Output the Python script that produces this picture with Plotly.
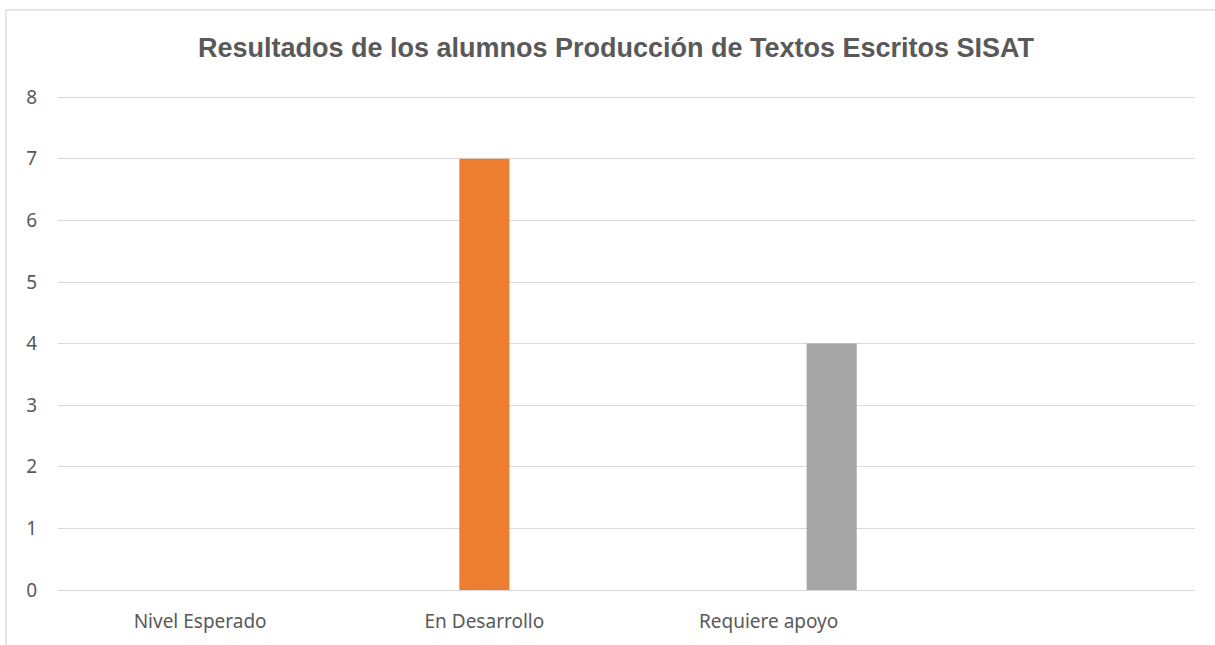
import plotly.graph_objects as go

# Data
categories = ["Nivel Esperado", "En Desarrollo", "Requiere apoyo", " "]
nivel_esperado = [0, None, None, None]
en_desarrollo = [None, 7, None, None]
requiere_apoyo = [None, None, 4, None]
y_ticks = [0, 1, 2, 3, 4, 5, 6, 7, 8]

fig = go.Figure()

fig.add_trace(go.Bar(x=categories, y=nivel_esperado, name="Nivel Esperado",
                     marker=dict(color="#4472C4", line=dict(width=0))))
fig.add_trace(go.Bar(x=categories, y=en_desarrollo, name="En Desarrollo",
                     marker=dict(color="#ED7D31", line=dict(width=0))))
fig.add_trace(go.Bar(x=categories, y=requiere_apoyo, name="Requiere apoyo",
                     marker=dict(color="#A5A5A5", line=dict(width=0))))

# Light border around the chart area (Excel style)
fig.add_shape(type="rect", xref="paper", yref="paper",
              x0=-0.0457, x1=1.2, y0=-0.2, y1=1.1744,
              line=dict(color="#D9D9D9", width=1.3), fillcolor="rgba(0,0,0,0)",
              layer="below")

tick_font = dict(family="Noto Sans, Open Sans", size=19, color="#595959")

fig.update_layout(
    width=1215, height=645,
    title=dict(text="<b>Resultados de los alumnos Producción de Textos Escritos SISAT</b>",
               x=0.507, xanchor="center", y=0.926, yanchor="middle",
               font=dict(family="Liberation Sans, Arial", size=27, color="#595959")),
    barmode="group",
    bargap=0.3345,
    bargroupgap=0.206,
    showlegend=False,
    plot_bgcolor="white",
    paper_bgcolor="white",
    margin=dict(l=58, r=20, t=96, b=55),
    xaxis=dict(
        type="category",
        showgrid=False,
        showline=False,
        ticks="",
        ticklabelstandoff=18,
        tickfont=tick_font,
    ),
    yaxis=dict(
        range=[0, 8.02],
        tickvals=y_ticks,
        showgrid=True,
        gridcolor="#D9D9D9",
        gridwidth=1,
        zeroline=True,
        zerolinecolor="#D9D9D9",
        zerolinewidth=1,
        showline=False,
        ticks="",
        ticklabelstandoff=20,
        tickfont=tick_font,
    ),
)

fig.write_html("out.html", config={"displayModeBar": False},
               post_script="document.body.style.margin='0';")
